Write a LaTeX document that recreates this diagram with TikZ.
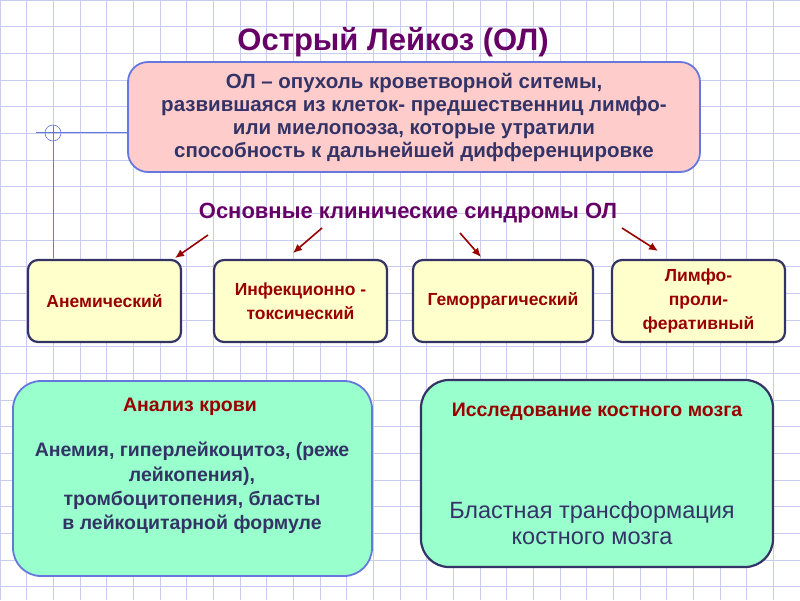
\documentclass[tikz,border=0pt]{standalone}
\usepackage{fontspec}
\setmainfont{Liberation Sans}
\begin{document}
\begin{tikzpicture}[x=1pt,y=-1pt,
  sbox/.style={draw=boxb,line width=2.2pt,fill=yelf,rounded corners=10pt,align=center,font=\bfseries\fontsize{17.5}{24}\selectfont,text=redt},
  arr/.style={draw=redt,line width=1.6pt,-{Latex[length=9pt,width=8pt]}}]
\usetikzlibrary{arrows.meta}
\definecolor{navyc}{HTML}{333366}
\definecolor{boxb}{HTML}{333366}
\definecolor{redt}{HTML}{990000}
\definecolor{yelf}{HTML}{FFFFCC}
\definecolor{pinkf}{HTML}{FFCCCC}
\definecolor{greenf}{HTML}{99FFCC}
\definecolor{gridc}{HTML}{C8CCEE}
\definecolor{bluel}{HTML}{6677DD}
\definecolor{purp}{HTML}{660066}
\useasboundingbox (0,0) rectangle (800,600);
\fill[white] (0,0) rectangle (800,600);
\foreach \i in {0,...,30} {\draw[gridc,line width=0.6pt] (\i*26.67,0) -- (\i*26.67,600);}
\foreach \j in {0,...,22} {\draw[gridc,line width=0.6pt] (0,\j*26.67) -- (800,\j*26.67);}
\draw[bluel,line width=0.8pt] (36,132) -- (128,132) (53,125) -- (53,258);
\draw[bluel,line width=0.6pt] (53,133) circle (8);
\node (title) at (393,42) {\bfseries\fontsize{31}{36}\selectfont\color{purp}Острый Лейкоз (ОЛ)};
\draw[bluel,line width=1.8pt,fill=pinkf,rounded corners=20pt] (128,62) rectangle (700,172);
\node[align=center,text=navyc,font=\bfseries\fontsize{20.5}{23}\selectfont] (def) at (414,117) {ОЛ – опухоль кроветворной ситемы,\\развившаяся из клеток- предшественниц лимфо-\\или миелопоэза, которые утратили\\способность к дальнейшей дифференцировке};
\node[text=purp,font=\bfseries\fontsize{22}{26}\selectfont] (sub) at (408,213) {Основные клинические синдромы ОЛ};
\node[sbox,minimum width=153pt,minimum height=82pt] (a) at (104.5,301) {Анемический};
\node[sbox,minimum width=173pt,minimum height=82pt] (b) at (300.5,301) {Инфекционно -\\токсический};
\node[sbox,minimum width=180pt,minimum height=82pt] (c) at (503,301) {Геморрагический};
\node[sbox,minimum width=173pt,minimum height=82pt] (d) at (698.5,301) {Лимфо-\\проли-\\феративный};
\coordinate (s1) at (208,235); \coordinate (s2) at (322,228);
\coordinate (s3) at (460,233); \coordinate (s4) at (622,228);
\draw[arr] (s1) -- (175,258);
\draw[arr] (s2) -- (293,253);
\draw[arr] (s3) -- (481,257);
\draw[arr] (s4) -- (658,251);
\draw[draw=bluel,line width=1.8pt,fill=greenf,rounded corners=28pt] (13,381) rectangle (372,576);
\node[text=redt,font=\bfseries\fontsize{19.5}{24}\selectfont] (k1) at (190,407) {Анализ крови};
\node[align=center,text=navyc,font=\bfseries\fontsize{19.5}{24.3}\selectfont] (k2) at (192,488) {Анемия, гиперлейкоцитоз, (реже\\лейкопения),\\тромбоцитопения, бласты\\в лейкоцитарной формуле};
\draw[draw=boxb,line width=2.2pt,fill=greenf,rounded corners=28pt] (421,380) rectangle (773,567);
\node[text=redt,font=\bfseries\fontsize{19.5}{24}\selectfont] (m1) at (597,412) {Исследование костного мозга};
\node[align=center,text=navyc,font=\fontsize{23.5}{26.5}\selectfont] (m2) at (592,523) {Бластная трансформация\\костного мозга};
\end{tikzpicture}
\end{document}
